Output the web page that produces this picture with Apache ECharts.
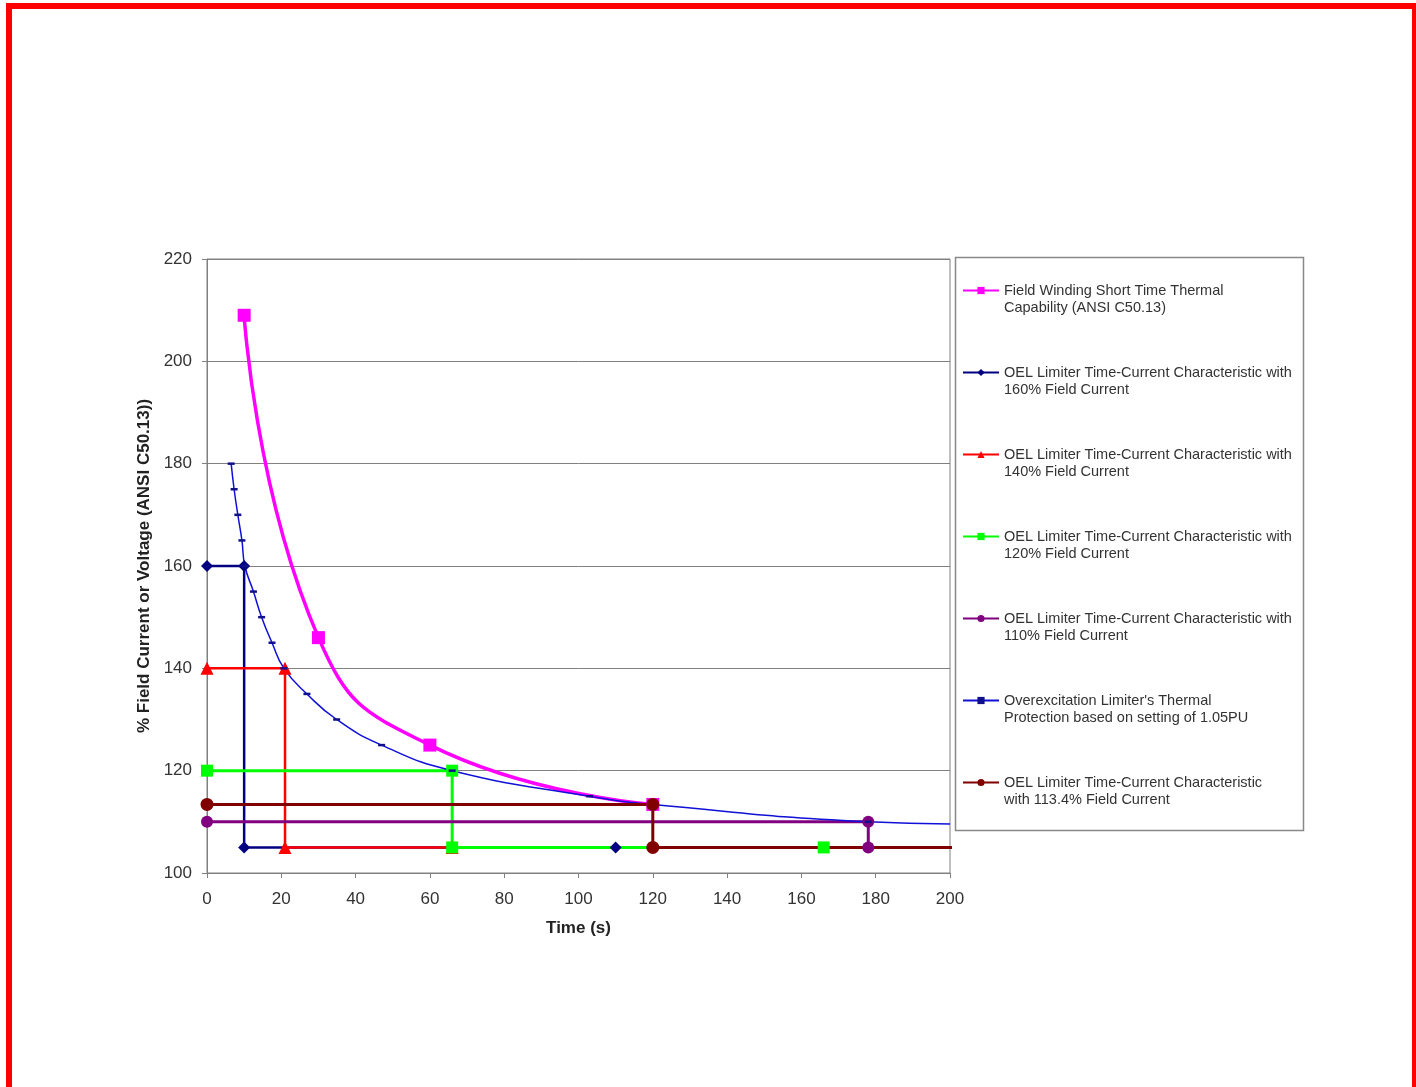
<!DOCTYPE html>
<html>
<head>
<meta charset="utf-8">
<script src="https://cdn.jsdelivr.net/npm/echarts@6/dist/echarts.min.js"></script>
<style>
  html, body { margin: 0; padding: 0; background: #fff; overflow: hidden; }
  #chart { position: absolute; left: 0; top: 0; width: 1416px; height: 1087px; }
  #frame { position: absolute; left: 6px; top: 3px; width: 1400px; height: 1100px;
           border: 6px solid #ff0000; pointer-events: none; }
</style>
</head>
<body>
<div id="chart"></div>
<div id="frame"></div>
<script>
// series names (two lines, as in the legend)
var names = [
  'Field Winding Short Time Thermal\nCapability (ANSI C50.13)',
  'OEL Limiter Time-Current Characteristic with\n160% Field Current',
  'OEL Limiter Time-Current Characteristic with\n140% Field Current',
  'OEL Limiter Time-Current Characteristic with\n120% Field Current',
  'OEL Limiter Time-Current Characteristic with\n110% Field Current',
  "Overexcitation Limiter's Thermal\nProtection based on setting of 1.05PU",
  'OEL Limiter Time-Current Characteristic\nwith 113.4% Field Current'
];

// time (s) / % current
var windingT = [10, 30, 60, 120];
var windingPct = [209, 146, 125, 113.4];

var oel160T = [0, 10, 10, 110];
var oel160Pct = [160, 160, 105, 105];

var oel140T = [0, 21, 21, 66];
var oel140Pct = [140, 140, 105, 105];

var oel120T = [0, 66, 66, 166];
var oel120Pct = [120, 120, 105, 105];

var oel110T = [0, 178, 178];
var oel110Pct = [110, 110, 105];

var thermalT = [6.5, 7.3, 8.3, 9.4, 10.2, 12.5, 14.7, 17.5, 20.7, 26.9, 34.9, 47, 66, 103, 120, 178, 200];
var thermalPct = [180, 175, 170, 165, 160, 155, 150, 145, 140, 135, 130, 125, 120, 115, 113.4, 110, 109.6];

var oel1134T = [0, 120, 120, 220];
var oel1134Pct = [113.4, 113.4, 105, 105];

function pairs(t, v) {
  var res = [];
  for (var i = 0; i < t.length; i++) {
    res.push([t[i], v[i]]);
  }
  return res;
}

var thermalData = pairs(thermalT, thermalPct);
// last point only carries the line to the edge
thermalData[thermalData.length - 1] = { value: thermalData[thermalData.length - 1], symbol: 'none' };

var font = 'Liberation Sans, Arial, sans-serif';

var option = {
  animation: false,
  backgroundColor: '#fff',
  textStyle: { fontFamily: font },
  grid: {
    left: 207,
    top: 259,
    width: 743,
    height: 614,
    show: true,
    borderColor: '#808080',
    borderWidth: 1
  },
  xAxis: {
    type: 'value',
    min: 0,
    max: 200,
    interval: 20,
    name: 'Time (s)',
    nameLocation: 'middle',
    nameGap: 47,
    nameTextStyle: { fontFamily: font, fontSize: 17, fontWeight: 'bold', color: '#222' },
    axisLine: { lineStyle: { color: '#808080', width: 1 } },
    axisTick: { show: true, length: 5, lineStyle: { color: '#808080' } },
    axisLabel: { fontFamily: font, fontSize: 17, color: '#333', margin: 18 },
    splitLine: { show: false }
  },
  yAxis: {
    type: 'value',
    min: 100,
    max: 220,
    interval: 20,
    name: '% Field Current or Voltage (ANSI C50.13))',
    nameLocation: 'middle',
    nameGap: 46,
    nameTextStyle: { fontFamily: font, fontSize: 17, fontWeight: 'bold', color: '#222' },
    axisLine: { show: true, lineStyle: { color: '#808080', width: 1 } },
    axisTick: { show: true, length: 5, lineStyle: { color: '#808080' } },
    axisLabel: { fontFamily: font, fontSize: 17, color: '#333', margin: 15 },
    splitLine: { show: true, lineStyle: { color: '#808080', width: 1 } }
  },
  legend: {
    orient: 'vertical',
    left: 962,
    top: 265,
    padding: 0,
    itemWidth: 36,
    itemHeight: 9,
    itemGap: 31,
    selectedMode: false,
    // leading empty line puts the first text line level with the icon
    formatter: function(name) {
      return '\n' + name;
    },
    textStyle: { fontFamily: font, fontSize: 14.5, lineHeight: 17, color: '#333' },
    data: names
  },
  graphic: [
    {
      type: 'rect',
      shape: { x: 955.5, y: 257.5, width: 348, height: 573 },
      style: { fill: 'none', stroke: '#888', lineWidth: 1.5 },
      silent: true
    }
  ],
  series: [
    {
      name: names[0], type: 'line', smooth: 0.5,
      data: pairs(windingT, windingPct),
      symbol: 'rect', symbolSize: 13,
      lineStyle: { color: '#ff00ff', width: 3.5 },
      itemStyle: { color: '#ff00ff' }
    },
    {
      name: names[1], type: 'line',
      data: pairs(oel160T, oel160Pct),
      symbol: 'diamond', symbolSize: 12,
      lineStyle: { color: '#000080', width: 2.5 },
      itemStyle: { color: '#000080' }
    },
    {
      name: names[2], type: 'line',
      data: pairs(oel140T, oel140Pct),
      symbol: 'triangle', symbolSize: 13,
      lineStyle: { color: '#ff0000', width: 2.5 },
      itemStyle: { color: '#ff0000' }
    },
    {
      name: names[3], type: 'line',
      data: pairs(oel120T, oel120Pct),
      symbol: 'rect', symbolSize: 12,
      lineStyle: { color: '#00ff00', width: 3 },
      itemStyle: { color: '#00ff00' }
    },
    {
      name: names[4], type: 'line',
      data: pairs(oel110T, oel110Pct),
      symbol: 'circle', symbolSize: 12,
      lineStyle: { color: '#800080', width: 3 },
      itemStyle: { color: '#800080' }
    },
    {
      name: names[5], type: 'line', smooth: 0.5,
      data: thermalData,
      symbol: 'rect', symbolSize: [7, 2.5],
      lineStyle: { color: '#1010d8', width: 1.5 },
      itemStyle: { color: '#10108c' }
    },
    {
      name: names[6], type: 'line',
      data: pairs(oel1134T, oel1134Pct),
      symbol: 'circle', symbolSize: 13,
      lineStyle: { color: '#800000', width: 3 },
      itemStyle: { color: '#800000' }
    }
  ]
};

var chart = echarts.init(document.getElementById('chart'));
chart.setOption(option);
</script>
</body>
</html>
